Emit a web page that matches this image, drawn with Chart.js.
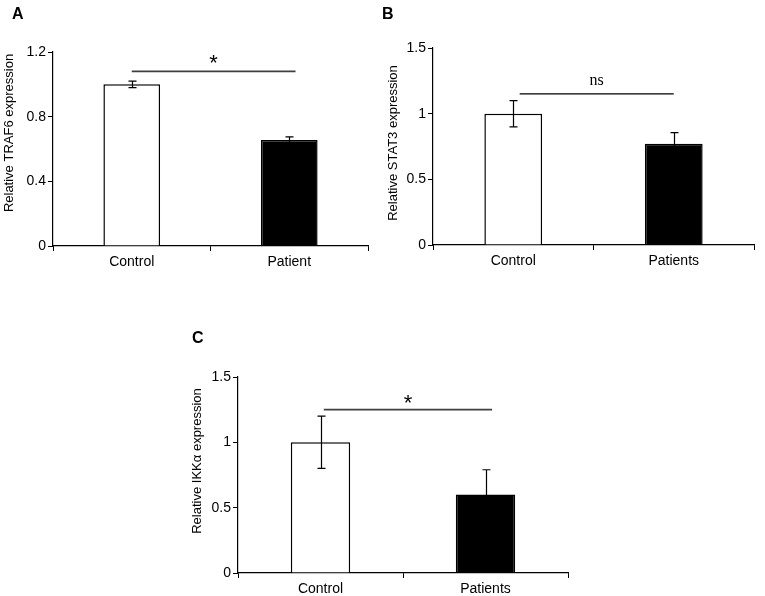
<!DOCTYPE html>
<html>
<head>
<meta charset="utf-8">
<script src="https://cdn.jsdelivr.net/npm/chart.js@4"></script>
<style>
  body { margin: 0; background: #fff; }
  #wrap { position: relative; width: 765px; height: 596px; }
  .panel { position: absolute; }
</style>
</head>
<body>
<div id="wrap">
  <div class="panel" style="left:0;top:0;width:380px;height:280px"><canvas id="chartA"></canvas></div>
  <div class="panel" style="left:380px;top:0;width:385px;height:280px"><canvas id="chartB"></canvas></div>
  <div class="panel" style="left:180px;top:300px;width:400px;height:296px"><canvas id="chartC"></canvas></div>
</div>
<script>
const categoriesA = ["Control", "Patient"];
const categoriesBC = ["Control", "Patients"];

const traf6Values = [1.0, 0.655];
const traf6Errors = [0.02, 0.02];
const traf6Ticks = [0, 0.4, 0.8, 1.2];

const stat3Values = [1.0, 0.77];
const stat3Errors = [0.1, 0.085];

const ikkValues = [1.0, 0.6];
const ikkErrors = [0.2, 0.19];
const tickLabelsBC = [0, 0.5, 1, 1.5];

// significance bars: [from category, to category, height, label]
const sigA = [0, 1.04, 1.08, "*"];
const sigB = [0.04, 1.0, 1.15, "ns"];
const sigC = [0.02, 1.04, 1.25, "*"];

const barColors = ["#ffffff", "#000000"];
const sans = "'Liberation Sans', Arial, sans-serif";

// draws error bars, significance line, axis title and panel letter
const extrasPlugin = {
  id: "extras",
  afterDatasetsDraw(chart, args, opts) {
    const { ctx, scales: { x, y } } = chart;
    const meta = chart.getDatasetMeta(0);
    ctx.save();
    ctx.strokeStyle = "#000";
    ctx.lineWidth = 1.2;
    opts.errors.forEach((err, i) => {
      const v = chart.data.datasets[0].data[i];
      const cx = Math.round(meta.data[i].x) + 0.5;
      const top = y.getPixelForValue(v + err);
      const bot = y.getPixelForValue(v - err);
      ctx.beginPath();
      ctx.moveTo(cx, top); ctx.lineTo(cx, bot);
      ctx.moveTo(cx - 4, top); ctx.lineTo(cx + 4, top);
      ctx.moveTo(cx - 4, bot); ctx.lineTo(cx + 4, bot);
      ctx.stroke();
    });

    const [from, to, level, label] = opts.sig;
    const x1 = x.getPixelForValue(from);
    const x2 = x.getPixelForValue(to);
    const ly = y.getPixelForValue(level);
    ctx.strokeStyle = opts.sigColor;
    ctx.lineWidth = opts.sigWidth;
    ctx.beginPath();
    ctx.moveTo(x1, ly); ctx.lineTo(x2, ly);
    ctx.stroke();
    ctx.fillStyle = "#000";
    ctx.textAlign = "center";
    ctx.textBaseline = "alphabetic";
    ctx.font = opts.sigFont;
    ctx.fillText(label, (x1 + x2) / 2, ly + opts.sigOffset);

    // rotated axis title
    ctx.save();
    ctx.translate(opts.titleX, opts.titleY);
    ctx.rotate(-Math.PI / 2);
    ctx.textBaseline = "middle";
    ctx.font = "13px " + sans;
    ctx.fillText(opts.title, 0, 0);
    ctx.restore();

    ctx.textAlign = "left";
    ctx.textBaseline = "top";
    ctx.font = "bold 16px " + sans;
    ctx.fillText(opts.letter, opts.letterX, opts.letterY);
    ctx.restore();
  }
};

function makeChart(id, labels, values, box, yOpts, extras) {
  const canvas = document.getElementById(id);
  return new Chart(canvas, {
    type: "bar",
    data: {
      labels,
      datasets: [{
        data: values,
        backgroundColor: barColors,
        borderColor: "#000",
        borderWidth: 1.5,
        barPercentage: 0.36,
        categoryPercentage: 1
      }]
    },
    options: {
      responsive: true,
      maintainAspectRatio: false,
      animation: false,
      events: [],
      layout: { padding: { top: box.top, right: box.right, left: 0, bottom: 0 } },
      plugins: { legend: { display: false }, tooltip: { enabled: false }, extras },
      scales: {
        x: {
          grid: { offset: true, drawOnChartArea: false, drawTicks: true, tickLength: 5, color: "#000" },
          border: { color: "#000", width: 1.2 },
          ticks: { color: "#000", padding: 3, font: { family: sans, size: 14 } },
          afterFit: s => { s.height = box.xh; }
        },
        y: {
          min: 0,
          max: yOpts.max,
          afterBuildTicks: s => { s.ticks = yOpts.ticks.map(v => ({ value: v })); },
          grid: { drawOnChartArea: false, drawTicks: true, tickLength: 5, color: "#000" },
          border: { color: "#000", width: 1.2 },
          ticks: { color: "#000", padding: 2, font: { family: sans, size: 14 },
                   callback: v => String(v) },
          afterFit: s => { s.width = box.left; }
        }
      }
    },
    plugins: [extrasPlugin]
  });
}

makeChart("chartA", categoriesA, traf6Values,
  { left: 53, top: 52, right: 12, xh: 34 },
  { max: 1.2, ticks: traf6Ticks },
  { errors: traf6Errors, sig: sigA, sigColor: "#404040", sigWidth: 1.8, sigFont: "22px " + sans,
    sigOffset: -1, title: "Relative TRAF6 expression", titleX: 9, titleY: 133, letter: "A", letterX: 12, letterY: 7 });

makeChart("chartB", categoriesBC, stat3Values,
  { left: 53, top: 48, right: 11, xh: 35 },
  { max: 1.5, ticks: tickLabelsBC },
  { errors: stat3Errors, sig: sigB, sigColor: "#000", sigWidth: 1.2, sigFont: "16px 'Liberation Serif', 'Times New Roman', serif",
    sigOffset: -9, title: "Relative STAT3 expression", titleX: 13, titleY: 143, letter: "B", letterX: 2, letterY: 7 });

makeChart("chartC", categoriesBC, ikkValues,
  { left: 58, top: 77, right: 12, xh: 23 },
  { max: 1.5, ticks: tickLabelsBC },
  { errors: ikkErrors, sig: sigC, sigColor: "#404040", sigWidth: 1.8, sigFont: "22px " + sans,
    sigOffset: 0, title: "Relative IKKα expression", titleX: 17, titleY: 161, letter: "C", letterX: 12, letterY: 31 });
</script>
</body>
</html>
